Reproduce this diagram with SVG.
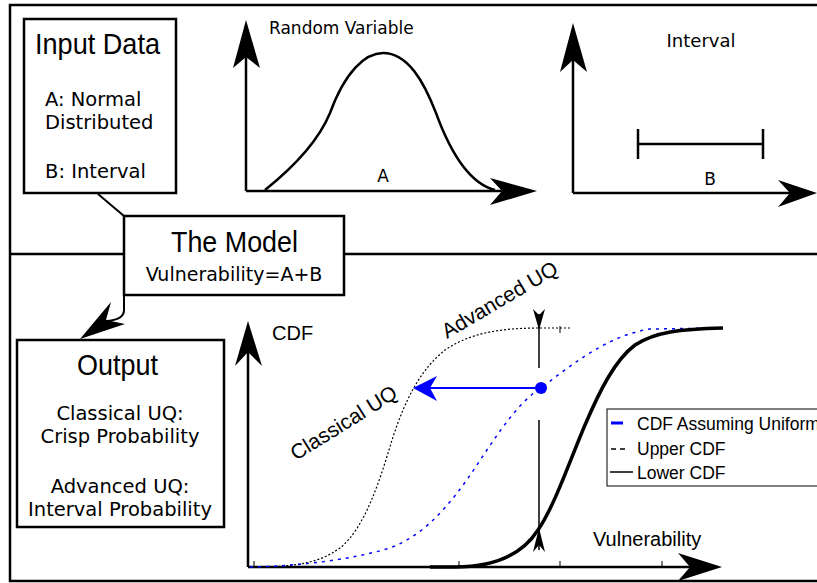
<svg xmlns="http://www.w3.org/2000/svg" width="817" height="583" viewBox="0 0 817 583">
<style>
.frame{fill:none;stroke:#000;stroke-width:2.5}
.box{fill:#fff;stroke:#000;stroke-width:2.5}
.ax{fill:none;stroke:#000;stroke-width:2.5}
.ah{fill:#000;stroke:none}
.title{font-family:"Liberation Sans Narrow","Liberation Sans",Arial,sans-serif;font-size:30px;fill:#000}
.dv{font-family:"DejaVu Sans",Verdana,sans-serif;fill:#000}
.ar{font-family:"Liberation Sans",Arial,sans-serif;fill:#000}
</style>
<rect x="0" y="0" width="817" height="583" fill="#fff"/>
<g id="frame">
<path class="frame" d="M817,5 H10 V581 H817"/>
<path class="frame" d="M10,254 H124 M344,254 H817"/>
</g>
<g id="connectors">
<path d="M98,194 L124,216" fill="none" stroke="#000" stroke-width="2"/>
<path d="M124,295 V310 Q124,320 106,321" fill="none" stroke="#000" stroke-width="2"/>
<polygon class="ah" points="80,339 111,302 106,320 125,324"/>
</g>
<g id="input-data">
<rect class="box" x="24" y="19" width="152" height="174"/>
<text class="title" x="35" y="54" textLength="125" lengthAdjust="spacingAndGlyphs">Input Data</text>
<text class="dv" x="45" y="106" font-size="19.5">A: Normal</text>
<text class="dv" x="45" y="129" font-size="19.5">Distributed</text>
<text class="dv" x="45" y="178" font-size="19.5">B: Interval</text>
</g>
<g id="model">
<rect class="box" x="124" y="216" width="220" height="79"/>
<text class="title" x="171" y="252" textLength="127" lengthAdjust="spacingAndGlyphs">The Model</text>
<text class="dv" x="234" y="281" font-size="19" text-anchor="middle">Vulnerability=A+B</text>
</g>
<g id="output">
<rect class="box" x="17" y="340" width="207" height="187"/>
<text class="title" x="77" y="375" textLength="81" lengthAdjust="spacingAndGlyphs">Output</text>
<text class="dv" x="120" y="420" font-size="19.5" text-anchor="middle">Classical UQ:</text>
<text class="dv" x="120" y="443" font-size="19.5" text-anchor="middle">Crisp Probability</text>
<text class="dv" x="120" y="493" font-size="19.5" text-anchor="middle">Advanced UQ:</text>
<text class="dv" x="120" y="516" font-size="19.5" text-anchor="middle">Interval Probability</text>
</g>
<g id="chart-a">
<path class="ax" d="M246,191 V56 M246,191 H502"/>
<polygon class="ah" points="246,20 260,68 246,57 233,68"/>
<polygon class="ah" points="537,191 490,205 502,191 490,178"/>
<path d="M265,190 C290,170 318,142 330,113 C345,72 365,53 383,53 C408,53 424,82 436,113 C455,165 475,185 495,190" fill="none" stroke="#000" stroke-width="2.5"/>
<text class="dv" x="269" y="34" font-size="17">Random Variable</text>
<text class="dv" x="383" y="182" font-size="17" text-anchor="middle">A</text>
</g>
<g id="chart-b">
<path class="ax" d="M573,193 V60 M573,193 H790"/>
<polygon class="ah" points="573,23 587,72 573,60 560,72"/>
<polygon class="ah" points="817,193 778,207 790,193 778,180"/>
<path d="M638,144 H763 M638,129 V159 M763,129 V159" fill="none" stroke="#000" stroke-width="2.5"/>
<text class="dv" x="701" y="47" font-size="18" text-anchor="middle">Interval</text>
<text class="dv" x="710" y="185" font-size="17" text-anchor="middle">B</text>
</g>
<g id="cdf-chart">
<path class="ax" d="M248,567 V352 M248,567 H705"/>
<polygon class="ah" points="248,321 262,366 248,352 235,366"/>
<polygon class="ah" points="722,567 678,581 690,567 678,553"/>
<path d="M254,567 V561 M459,567 V561 M560,567 V561 M662,567 V561" stroke="#000" stroke-width="1" fill="none"/>
<path d="M254,567 C300,567 320,562 340,548 C365,528 380,480 392,440 C405,400 420,370 445,350 C470,333 500,328 540,328 L570,328" fill="none" stroke="#000" stroke-width="1.2" stroke-dasharray="2,2"/>
<path d="M560,326 V333" stroke="#000" stroke-width="1"/>
<path d="M250,567 C300,566 350,560 390,548 C425,535 450,505 475,468 C500,430 520,400 545,385 C575,362 610,335 650,329 L723,328" fill="none" stroke="#0000ff" stroke-width="1.5" stroke-dasharray="3,5"/>
<path d="M430,567 L455,567 C490,567 520,558 538,530 C555,505 570,460 585,425 C600,390 615,360 635,345 C655,332 680,329 723,328" fill="none" stroke="#000" stroke-width="3.5"/>
<path d="M539,314 V368 M539,420 V550" stroke="#000" stroke-width="1.5" fill="none"/>
<polygon class="ah" points="539,330 533,309 539,315 545,309"/>
<polygon class="ah" points="539,528 545,552 539,545 533,552"/>
<path d="M541,388 H428" stroke="#0000ff" stroke-width="2" fill="none"/>
<polygon points="413,388 437,376 430,388 437,401" fill="#0000ff"/>
<circle cx="541" cy="388" r="6" fill="#0000ff"/>
<text class="ar" x="272" y="340" font-size="20">CDF</text>
<text class="ar" x="593" y="546" font-size="20">Vulnerability</text>
<text class="ar" font-size="21" transform="translate(447,339) rotate(-30.5)">Advanced UQ</text>
<text class="ar" font-size="21" transform="translate(296,461) rotate(-32)">Classical UQ</text>
<rect x="607" y="409" width="222" height="77" fill="#fff" stroke="#000" stroke-width="1"/>
<path d="M611,423 H623" stroke="#0000ff" stroke-width="3"/>
<path d="M611,449 H629" stroke="#000" stroke-width="1.5" stroke-dasharray="5,4"/>
<path d="M610,472 H633" stroke="#000" stroke-width="1.5"/>
<text class="ar" x="637" y="430" font-size="17.5">CDF Assuming Uniform</text>
<text class="ar" x="637" y="455" font-size="17.5">Upper CDF</text>
<text class="ar" x="637" y="479" font-size="17.5">Lower CDF</text>
</g>
</svg>
